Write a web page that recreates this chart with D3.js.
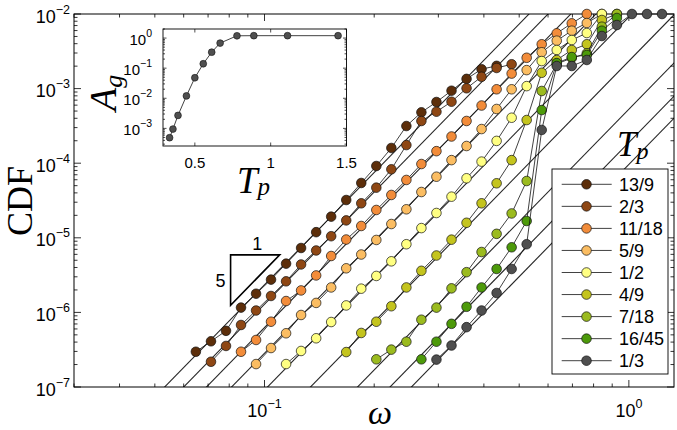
<!DOCTYPE html>
<html><head><meta charset="utf-8">
<script src="https://cdn.jsdelivr.net/npm/d3@7"></script>
<style>
body{margin:0;background:#fff}
svg{display:block}
text{font-family:"Liberation Sans",Arial,Helvetica,sans-serif;fill:#000}
.serif{font-family:"Liberation Serif","Times New Roman",serif}
</style>
</head><body>
<svg id="c" width="677" height="430"></svg>
<script>
// ---------------- data ----------------
const omegaGrid = [0.0648,0.0713,0.0784,0.0862,0.0948,0.1042,0.1146,0.1260,0.1386,0.1524,0.1676,0.1843,0.2027,0.2229,0.2451,0.2695,0.2964,0.3260,0.3585,0.3942,0.4335,0.4767,0.5242,0.5765,0.6339,0.6971,0.7666,0.8431,0.9271,1.0195,1.1212,1.2329];

const seriesLabels = ["13/9","2/3","11/18","5/9","1/2","4/9","7/18","16/45","1/3"];
const seriesColors = ["#5c2e0a","#8e4714","#f28c3a","#fbbd62","#ffff82","#c4c41e","#9bbb1f","#4d9a0a","#4f4f4f"];

const cdf_13_9 = [2.97e-7,4.10e-7,5.66e-7,1.16e-6,1.78e-6,2.75e-6,4.50e-6,7.30e-6,1.19e-5,1.92e-5,3.21e-5,5.43e-5,9.17e-5,1.60e-4,3.15e-4,4.81e-4,6.61e-4,9.37e-4,1.35e-3,1.82e-3,2.02e-3,null,null,null,null,null,null,null,null,null,null,null];
const cdf_2_3 = [null,2.18e-7,3.55e-7,6.78e-7,1.06e-6,1.66e-6,2.61e-6,4.39e-6,6.76e-6,1.05e-5,1.71e-5,2.90e-5,4.70e-5,8.28e-5,1.75e-4,3.68e-4,4.90e-4,6.67e-4,1.01e-3,1.44e-3,1.89e-3,2.12e-3,null,null,null,null,null,null,null,null,null,null];
const cdf_11_18 = [null,null,null,2.97e-7,4.27e-7,7.50e-7,1.42e-6,1.97e-6,3.13e-6,5.70e-6,9.48e-6,1.44e-5,2.36e-5,3.75e-5,5.96e-5,9.75e-5,1.45e-4,2.28e-4,3.68e-4,5.93e-4,9.79e-4,1.59e-3,2.59e-3,3.93e-3,5.51e-3,7.50e-3,1.0e-2,null,null,null,null,null];
const cdf_5_9 = [null,null,null,null,2.03e-7,3.33e-7,5.25e-7,9.23e-7,1.34e-6,2.16e-6,3.90e-6,5.97e-6,9.35e-6,1.53e-5,2.41e-5,4.11e-5,6.59e-5,1.10e-4,1.70e-4,2.87e-4,5.33e-4,9.79e-4,1.77e-3,3.07e-3,4.39e-3,5.97e-3,7.57e-3,1.0e-2,null,null,null,null];
const cdf_1_2 = [null,null,null,null,null,null,2.03e-7,3.04e-7,4.50e-7,7.43e-7,1.24e-6,2.08e-6,3.08e-6,4.84e-6,8.20e-6,1.35e-5,2.15e-5,3.56e-5,6.28e-5,1.05e-4,1.99e-4,4.07e-4,1.08e-3,2.34e-3,3.29e-3,4.48e-3,5.56e-3,1.0e-2,null,null,null,null];
const cdf_4_9 = [null,null,null,null,null,null,null,null,null,null,2.94e-7,5.30e-7,7.50e-7,1.21e-6,2.16e-6,3.61e-6,5.79e-6,9.44e-6,1.59e-5,2.90e-5,5.38e-5,1.10e-4,3.79e-4,1.63e-3,2.42e-3,3.29e-3,3.93e-3,8.31e-3,1.0e-2,null,null,null];
const cdf_7_18 = [null,null,null,null,null,null,null,null,null,null,null,null,2.35e-7,3.17e-7,4.05e-7,7.98e-7,1.16e-6,2.10e-6,3.46e-6,6.45e-6,1.13e-5,2.12e-5,5.77e-5,9.29e-4,2.14e-3,2.57e-3,2.97e-3,6.76e-3,1.0e-2,null,null,null];
const cdf_16_45 = [null,null,null,null,null,null,null,null,null,null,null,null,null,null,null,2.35e-7,4.05e-7,7.03e-7,1.19e-6,2.16e-6,3.82e-6,7.46e-6,1.68e-5,5.16e-4,2.20e-3,2.65e-3,2.82e-3,5.97e-3,8.84e-3,null,null,null];
const cdf_1_3 = [null,null,null,null,null,null,null,null,null,null,null,null,null,null,null,null,2.33e-7,3.60e-7,6.34e-7,1.06e-6,1.82e-6,3.82e-6,8.20e-6,2.79e-4,2.01e-3,2.01e-3,2.42e-3,5.07e-3,7.12e-3,1.0e-2,1.0e-2,1.0e-2];

// omega at which each slope-5 guide line crosses CDF = 1e-7
const guideOmegaAt1e7 = [0.0532,0.0600,0.0693,0.0812,0.1019,0.1337,0.180,0.221,0.253];
const guideSlope = 5;
// slope triangle (omega left, omega right, CDF at top edge)
const triangleOmega = [0.0807,0.1101];
const triangleTopCDF = 5.9e-6;

// inset
const insetTp = [1/3,16/45,7/18,4/9,1/2,5/9,11/18,2/3,7/9,8/9,10/9,13/9];
const insetAg = [4.9e-4,9.5e-4,2.7e-3,1.2e-2,4.8e-2,0.14,0.34,0.68,1.19,1.2,1.2,1.2];

const xMajorTicks = [0.1,1];
const xMinorTicks = [0.03,0.04,0.05,0.06,0.07,0.08,0.09,0.2,0.3,0.4,0.5,0.6,0.7,0.8,0.9];
const yMajorExp = [-7,-6,-5,-4,-3,-2];
const insetXTicks = [0.5,1,1.5];
const insetYMajorExp = [-3,-2,-1,0];

const allSeries = [cdf_13_9,cdf_2_3,cdf_11_18,cdf_5_9,cdf_1_2,cdf_4_9,cdf_7_18,cdf_16_45,cdf_1_3];

// ---------------- drawing ----------------
const svg = d3.select("#c");
const M = {l:74, r:674, t:14, b:387};
const x = d3.scaleLog().domain([0.03,1.33]).range([M.l,M.r]);
const y = d3.scaleLog().domain([1e-7,1e-2]).range([M.b,M.t]);

svg.append("rect").attr("width",677).attr("height",430).attr("fill","#fff");
svg.append("defs").append("clipPath").attr("id","clipMain")
  .append("rect").attr("x",M.l).attr("y",M.t).attr("width",M.r-M.l).attr("height",M.b-M.t);

// guide lines
const gGuide = svg.append("g").attr("clip-path","url(#clipMain)");
guideOmegaAt1e7.forEach(w0=>{
  const a = 0.3, b = 12;
  gGuide.append("line")
    .attr("x1",x(w0*a)).attr("y1",y(1e-7*Math.pow(a,guideSlope)))
    .attr("x2",x(w0*b)).attr("y2",y(1e-7*Math.pow(b,guideSlope)))
    .attr("stroke","#262626").attr("stroke-width",1.1);
});

// minor ticks + major ticks (inward, mirrored)
const gAx = svg.append("g");
function yMinorList(){
  const out=[];
  for(let e=-7;e<-2;e++) for(let m=2;m<=9;m++) out.push(m*Math.pow(10,e));
  return out;
}
const yMinor = yMinorList();
function tick(x1,y1,x2,y2){
  gAx.append("line").attr("x1",x1).attr("y1",y1).attr("x2",x2).attr("y2",y2)
    .attr("stroke","#000").attr("stroke-width",0.8);
}
xMinorTicks.forEach(v=>{ const px=x(v); tick(px,M.b,px,M.b-3.5); tick(px,M.t,px,M.t+3.5); });
xMajorTicks.forEach(v=>{ const px=x(v); tick(px,M.b,px,M.b-7); tick(px,M.t,px,M.t+7); });
yMinor.forEach(v=>{ const py=y(v); tick(M.l,py,M.l+3.5,py); tick(M.r,py,M.r-3.5,py); });
yMajorExp.forEach(e=>{ const py=y(Math.pow(10,e)); tick(M.l,py,M.l+7,py); tick(M.r,py,M.r-7,py); });

// frame
svg.append("rect").attr("x",M.l).attr("y",M.t).attr("width",M.r-M.l).attr("height",M.b-M.t)
  .attr("fill","none").attr("stroke","#000").attr("stroke-width",1);

// tick labels
function powLabel(g, px, py, exp, anchor, fs, sfs, sdy){
  const t = g.append("text").attr("x",px).attr("y",py).attr("text-anchor",anchor).attr("font-size",fs);
  t.append("tspan").text("10");
  t.append("tspan").attr("dy",-sdy).attr("font-size",sfs).text(exp<0?"\u2212"+(-exp):String(exp));
  return t;
}
yMajorExp.forEach(e=>{ powLabel(svg, 70, y(Math.pow(10,e))+8.5, e, "end", 18, 12.5, 9); });
xMajorTicks.forEach(v=>{
  const e = Math.round(Math.log10(v));
  powLabel(svg, x(v), 416.5, e, "middle", 18, 12.5, 9);
});

// axis labels
svg.append("text").attr("class","serif").attr("font-size",36)
  .attr("transform","translate(32,201) rotate(-90)").attr("text-anchor","middle").text("CDF");
svg.append("text").attr("class","serif").attr("font-size",34).attr("font-style","italic")
  .attr("x",380).attr("y",424).attr("text-anchor","middle").text("\u03c9");

// slope triangle
const tx0 = x(triangleOmega[0]), tx1 = x(triangleOmega[1]);
const tyTop = y(triangleTopCDF);
const tyBot = y(triangleTopCDF*Math.pow(triangleOmega[0]/triangleOmega[1],guideSlope));
svg.append("path").attr("d",`M${tx0},${tyTop}L${tx1},${tyTop}L${tx0},${tyBot}Z`)
  .attr("fill","none").attr("stroke","#000").attr("stroke-width",1.6).attr("stroke-linejoin","miter");
svg.append("text").attr("x",(tx0+tx1)/2+2).attr("y",tyTop-5).attr("text-anchor","middle").attr("font-size",18).text("1");
svg.append("text").attr("x",tx0-10).attr("y",(tyTop+tyBot)/2+7).attr("text-anchor","middle").attr("font-size",18).text("5");

// series
const line = d3.line().defined(d=>d[1]!=null).x(d=>x(d[0])).y(d=>y(d[1]));
allSeries.forEach((s,i)=>{
  const pts = omegaGrid.map((w,k)=>[w,s[k]]);
  const g = svg.append("g");
  g.append("path").attr("d",line(pts)).attr("fill","none").attr("stroke","#111").attr("stroke-width",0.8);
  g.selectAll("circle").data(pts.filter(d=>d[1]!=null)).join("circle")
    .attr("cx",d=>x(d[0])).attr("cy",d=>y(d[1])).attr("r",4.8)
    .attr("fill",seriesColors[i]).attr("stroke","#111").attr("stroke-width",0.7);
});

// legend
const L = {x:552, y:169, w:116, h:205, row0:184.3, dy:22.05};
svg.append("rect").attr("x",L.x).attr("y",L.y).attr("width",L.w).attr("height",L.h)
  .attr("fill","#fff").attr("stroke","#000").attr("stroke-width",0.9);
seriesLabels.forEach((lab,i)=>{
  const yy = L.row0 + i*L.dy;
  svg.append("line").attr("x1",561.7).attr("x2",611.7).attr("y1",yy).attr("y2",yy).attr("stroke","#111").attr("stroke-width",0.8);
  svg.append("circle").attr("cx",586.5).attr("cy",yy).attr("r",4.8).attr("fill",seriesColors[i]).attr("stroke","#111").attr("stroke-width",0.7);
  svg.append("text").attr("x",619).attr("y",yy+6.5).attr("font-size",18).text(lab);
});
// legend title
const lt = svg.append("text").attr("class","serif").attr("x",617).attr("y",156).attr("font-size",35).attr("font-style","italic");
lt.append("tspan").text("T");
lt.append("tspan").attr("dy",3).attr("font-size",24).text("p");

// ---------------- inset ----------------
const I = {l:163, r:346.5, t:29, b:146};
const ix = d3.scaleLinear().domain([0.29,1.5]).range([I.l,I.r]);
const iy = d3.scaleLog().domain([2.6e-4,2]).range([I.b,I.t]);
svg.append("rect").attr("x",I.l).attr("y",I.t).attr("width",I.r-I.l).attr("height",I.b-I.t).attr("fill","#fff");
const gi = svg.append("g");
function itick(x1,y1,x2,y2){ gi.append("line").attr("x1",x1).attr("y1",y1).attr("x2",x2).attr("y2",y2).attr("stroke","#000").attr("stroke-width",0.7); }
insetXTicks.forEach(v=>{ const px=ix(v); itick(px,I.b,px,I.b-3.5); itick(px,I.t,px,I.t+3.5); });
for(let e=-4;e<=0;e++){
  for(let m=1;m<=9;m++){
    const v=m*Math.pow(10,e); if(v<2.6e-4||v>2) continue;
    const len = m===1?3.5:2;
    const py=iy(v); itick(I.l,py,I.l+len,py); itick(I.r,py,I.r-len,py);
  }
}
gi.append("rect").attr("x",I.l).attr("y",I.t).attr("width",I.r-I.l).attr("height",I.b-I.t)
  .attr("fill","none").attr("stroke","#000").attr("stroke-width",0.9);
insetYMajorExp.forEach(e=>{ powLabel(svg, 152, iy(Math.pow(10,e))+6.5, e, "end", 15, 10.5, 7.5); });
insetXTicks.forEach(v=>{ svg.append("text").attr("x",ix(v)).attr("y",168).attr("text-anchor","middle").attr("font-size",15).text(String(v)); });
const iline = d3.line().x((d,i)=>ix(insetTp[i])).y((d,i)=>iy(insetAg[i]));
svg.append("path").attr("d",iline(insetAg)).attr("fill","none").attr("stroke","#111").attr("stroke-width",0.8);
svg.selectAll("circle.ins").data(insetAg).join("circle").attr("class","ins")
  .attr("cx",(d,i)=>ix(insetTp[i])).attr("cy",d=>iy(d)).attr("r",3.4)
  .attr("fill","#4f4f4f").attr("stroke","#111").attr("stroke-width",0.6);
// inset labels
const ag = svg.append("text").attr("class","serif").attr("font-size",38).attr("font-style","italic")
  .attr("transform","translate(116,111) rotate(-90)");
ag.append("tspan").text("A");
ag.append("tspan").attr("dy",6).attr("font-size",26).text("g");
const tp = svg.append("text").attr("class","serif").attr("font-size",37).attr("font-style","italic")
  .attr("x",237).attr("y",193);
tp.append("tspan").text("T");
tp.append("tspan").attr("dy",2).attr("font-size",25).text("p");
</script>
</body></html>
